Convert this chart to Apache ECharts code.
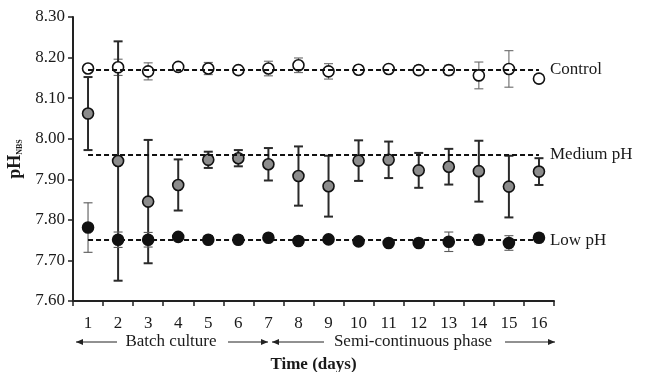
<!DOCTYPE html>
<html>
<head>
<meta charset="utf-8">
<script src="https://cdn.jsdelivr.net/npm/echarts@6/dist/echarts.min.js"></script>
<style>html,body{margin:0;padding:0;background:#fff;}#c{width:646px;height:372px;}</style>
</head>
<body>
<div id="c"></div>
<script>
// ---- data ----
const days = ['1','2','3','4','5','6','7','8','9','10','11','12','13','14','15','16'];
const yTicks = [7.60, 7.70, 7.80, 7.90, 8.00, 8.10, 8.20, 8.30];
const seriesNames = ['Control', 'Medium pH', 'Low pH'];
const controlMean = [8.173,8.176,8.166,8.177,8.173,8.169,8.173,8.181,8.166,8.170,8.172,8.169,8.169,8.156,8.172,8.148];
const controlErr  = [0.007,0.020,0.021,0.007,0.015,0.003,0.018,0.018,0.019,0.010,0.008,0.011,0.012,0.033,0.045,0.010];
const mediumMean  = [8.062,7.945,7.845,7.886,7.948,7.952,7.937,7.908,7.883,7.946,7.948,7.922,7.931,7.920,7.882,7.919];
const mediumErr   = [0.090,0.295,0.152,0.063,0.020,0.020,0.040,0.073,0.075,0.050,0.045,0.043,0.044,0.075,0.076,0.033];
const lowMean     = [7.781,7.751,7.751,7.758,7.751,7.751,7.756,7.748,7.752,7.747,7.743,7.743,7.746,7.751,7.743,7.756];
const lowErr      = [0.061,0.019,0.018,0.008,0.010,0.010,0.005,0.010,0.008,0.005,0.004,0.005,0.024,0.012,0.018,0.010];
const meanLines   = [8.17, 7.96, 7.75];
const phaseLabels = ['Batch culture', 'Semi-continuous phase'];
const xAxisName = 'Time (days)';

// ---- styles ----
const FONT = '"Liberation Serif", "Times New Roman", serif';
const TXT = '#1a1a1a';
const groups = [
  {name: seriesNames[0], mean: controlMean, err: controlErr, fill: '#ffffff', barColor: '#6a6a6a', barWidth: 1.1, line: meanLines[0]},
  {name: seriesNames[1], mean: mediumMean, err: mediumErr, fill: '#8c8c8c', barColor: '#2a2a2a', barWidth: 2, line: meanLines[1]},
  {name: seriesNames[2], mean: lowMean, err: lowErr, fill: '#111111', barColor: '#5a5a5a', barWidth: 1.1, line: meanLines[2]}
];

function errRender(color, width) {
  return function (params, api) {
    const x = api.value(0), v = api.value(1), e = api.value(2);
    const top = api.coord([x, v + e]);
    const bot = api.coord([x, v - e]);
    const hw = 4.5;
    const st = {stroke: color, lineWidth: width};
    return {type: 'group', children: [
      {type: 'line', shape: {x1: top[0], y1: top[1], x2: bot[0], y2: bot[1]}, style: st},
      {type: 'line', shape: {x1: top[0] - hw, y1: top[1], x2: top[0] + hw, y2: top[1]}, style: st},
      {type: 'line', shape: {x1: bot[0] - hw, y1: bot[1], x2: bot[0] + hw, y2: bot[1]}, style: st}
    ]};
  };
}

const series = [];
groups.forEach(function (g, gi) {
  series.push({
    type: 'custom',
    name: g.name + ' err',
    renderItem: errRender(g.barColor, g.barWidth),
    data: g.mean.map(function (v, i) { return [i, v, g.err[i]]; }),
    encode: {x: 0, y: 1},
    z: 2,
    silent: true,
    markLine: {
      silent: true,
      symbol: 'none',
      lineStyle: {type: [5, 3], width: 2, color: '#111'},
      label: {show: true, position: 'end', distance: 11, formatter: g.name,
              fontFamily: FONT, fontSize: 17, color: TXT},
      data: [[{coord: [days[0], g.line]}, {coord: [days[days.length - 1], g.line]}]]
    }
  });
  series.push({
    type: 'scatter',
    name: g.name,
    data: g.mean.map(function (v, i) { return [days[i], v]; }),
    symbol: 'circle',
    symbolSize: 11,
    z: 4,
    itemStyle: {color: g.fill, borderColor: '#111', borderWidth: 1.6, opacity: 1}
  });
});

function arrow(x1, x2, y, headLeft) {
  const hx = headLeft ? x1 : x2;
  const dir = headLeft ? 1 : -1;
  return [
    {type: 'line', shape: {x1: x1, y1: y, x2: x2, y2: y}, style: {stroke: '#222', lineWidth: 1}},
    {type: 'polygon', shape: {points: [[hx, y], [hx + dir * 7, y - 3], [hx + dir * 7, y + 3]]}, style: {fill: '#222'}}
  ];
}

const graphic = [].concat(
  arrow(76, 117, 342, true),
  arrow(228, 268, 342, false),
  arrow(272, 324, 342, true),
  arrow(505, 555, 342, false),
  [
    {type: 'text', x: 171, y: 342, style: {text: phaseLabels[0], align: 'center', verticalAlign: 'middle', fontSize: 17, fontFamily: FONT, fill: TXT}},
    {type: 'text', x: 413, y: 342, style: {text: phaseLabels[1], align: 'center', verticalAlign: 'middle', fontSize: 17, fontFamily: FONT, fill: TXT}}
  ]
);

const chart = echarts.init(document.getElementById('c'), null, {renderer: 'canvas'});
chart.setOption({
  animation: false,
  backgroundColor: '#fff',
  grid: {left: 73, right: 92, top: 17, bottom: 71, containLabel: false, outerBoundsMode: 'none'},
  xAxis: {
    type: 'category',
    data: days,
    boundaryGap: true,
    name: xAxisName,
    nameLocation: 'middle',
    nameGap: 55,
    nameTextStyle: {fontFamily: FONT, fontSize: 17, fontWeight: 'bold', color: TXT},
    axisLine: {lineStyle: {color: '#222', width: 2}},
    axisTick: {show: true, length: 5, lineStyle: {color: '#222', width: 1.5}},
    axisLabel: {fontFamily: FONT, fontSize: 17, color: TXT, margin: 14},
    splitLine: {show: false}
  },
  yAxis: {
    type: 'value',
    min: yTicks[0],
    max: yTicks[yTicks.length - 1],
    interval: 0.1,
    name: '{a|pH}{b|NBS}',
    nameLocation: 'middle',
    nameGap: 40,
    nameTextStyle: {
      rich: {
        a: {fontFamily: FONT, fontSize: 18, fontWeight: 'bold', color: TXT},
        b: {fontFamily: FONT, fontSize: 8, fontWeight: 'bold', color: TXT, verticalAlign: 'bottom', padding: [8, 0, 0, 0]}
      }
    },
    axisLine: {show: true, lineStyle: {color: '#222', width: 2}},
    axisTick: {show: true, length: 5, lineStyle: {color: '#222', width: 1.5}},
    axisLabel: {fontFamily: FONT, fontSize: 17, color: TXT, margin: 8,
                formatter: function (v) { return v.toFixed(2); }},
    splitLine: {show: false}
  },
  series: series,
  graphic: graphic
});
</script>
</body>
</html>
